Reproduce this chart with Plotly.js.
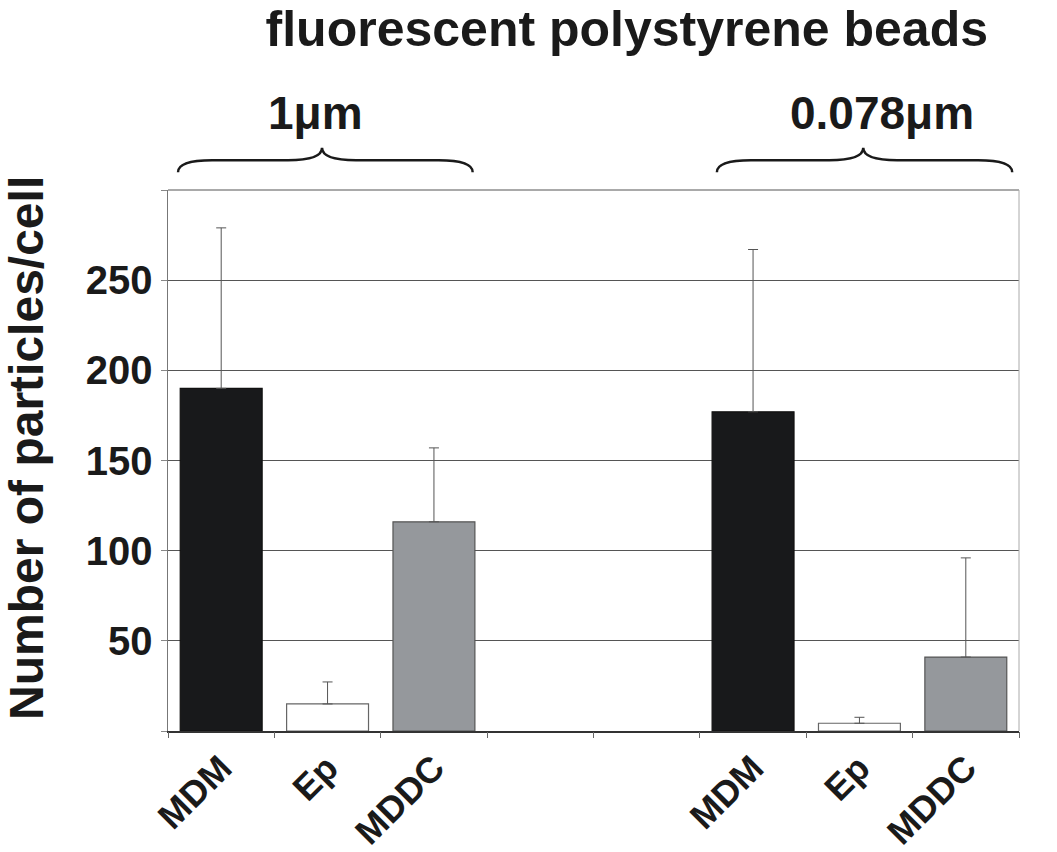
<!DOCTYPE html>
<html>
<head>
<meta charset="utf-8">
<script src="https://cdn.plot.ly/plotly-3.0.1.min.js"></script>
<style>
  html, body { margin: 0; padding: 0; background: #fff; }
  #chart { width: 1057px; height: 852px; }
</style>
</head>
<body>
<div id="chart"></div>
<script>
// cells and bead sizes
var cellTypes = ["MDM", "Ep", "MDDC", "MDM", "Ep", "MDDC"];
var slotIndex = [0, 1, 2, 5, 6, 7];          // two empty slots between the groups
var particlesMean = [190, 15, 116, 177, 4.3, 41];
var particlesErr = [89, 12.2, 41, 90, 3.3, 55];
var barColors = ["#18191b", "#ffffff", "#95989c", "#18191b", "#ffffff", "#95989c"];
var barLines = ["#111111", "#666666", "#555555", "#111111", "#666666", "#555555"];
var groupLabels = ["1\u03bcm", "0.078\u03bcm"];
var yTicks = [0, 50, 100, 150, 200, 250, 300];
var yTickText = ["", "50", "100", "150", "200", "250", ""];

var FONT = "Liberation Sans, Arial, sans-serif";
var INK = "#1a1a1a";

// curly brace in paper coords
function brace(x0, x1, tip) {
  var yEnd = 1.033, yMid = 1.055, yTip = 1.078, d = 0.04;
  return "M" + x0 + "," + yEnd +
    " Q" + x0 + "," + yMid + " " + (x0 + d) + "," + yMid +
    " L" + (tip - d) + "," + yMid +
    " Q" + tip + "," + yMid + " " + tip + "," + yTip +
    " Q" + tip + "," + yMid + " " + (tip + d) + "," + yMid +
    " L" + (x1 - d) + "," + yMid +
    " Q" + x1 + "," + yMid + " " + x1 + "," + yEnd;
}

var bars = {
  type: "bar",
  x: slotIndex,
  y: particlesMean,
  width: 0.77,
  marker: { color: barColors, line: { color: barLines, width: 1.2 } },
  error_y: { type: "data", symmetric: false, array: particlesErr, arrayminus: particlesErr.map(function () { return 0; }),
    color: "#555", thickness: 1, width: 5 },
  hoverinfo: "skip",
  showlegend: false
};

// invisible trace to own the boundary tick axis
var ghost = { type: "scatter", x: [-0.5], y: [0], xaxis: "x2", mode: "markers",
  marker: { opacity: 0 }, hoverinfo: "skip", showlegend: false };

var layout = {
  width: 1057, height: 852,
  margin: { l: 168, r: 38, t: 190, b: 121 },
  paper_bgcolor: "#fff", plot_bgcolor: "#fff",
  font: { family: FONT, color: INK },
  title: { text: "<b>fluorescent polystyrene beads</b>", font: { size: 50, family: FONT, color: INK },
    x: 0.593, xanchor: "center", xref: "container", y: 0.967, yanchor: "middle", yref: "container" },
  xaxis: {
    range: [-0.5, 7.5], tickvals: slotIndex, ticktext: cellTypes.map(function (s) { return "<b>" + s + "</b>"; }),
    tickangle: -45, ticks: "", tickfont: { size: 36, family: FONT, color: INK },
    showgrid: false, zeroline: false, showline: true, linecolor: "#333", linewidth: 1.5
  },
  xaxis2: {
    overlaying: "x", range: [-0.5, 7.5], tickvals: [-0.5, 0.5, 1.5, 2.5, 3.5, 4.5, 5.5, 6.5, 7.5],
    showticklabels: false, ticks: "outside", ticklen: 6, tickcolor: "#666", showgrid: false, zeroline: false
  },
  yaxis: {
    range: [0, 300], tickvals: yTicks, ticktext: yTickText.map(function (s) { return s ? "<b>" + s + "</b>" : ""; }),
    ticks: "outside", ticklen: 6, tickcolor: "#888",
    tickfont: { size: 40, family: FONT, color: INK },
    showgrid: true, gridcolor: "#555", gridwidth: 1, zeroline: false,
    showline: true, linecolor: "#777", linewidth: 1.5
  },
  shapes: [
    { type: "line", xref: "paper", yref: "paper", x0: 0, x1: 1, y0: 1, y1: 1, line: { color: "#555", width: 1 } },
    { type: "line", xref: "paper", yref: "paper", x0: 1, x1: 1, y0: 0, y1: 1, line: { color: "#aaa", width: 1 } },
    { type: "path", xref: "paper", yref: "paper", path: brace(0.0118, 0.358, 0.181), line: { color: INK, width: 2.5 } },
    { type: "path", xref: "paper", yref: "paper", path: brace(0.645, 0.992, 0.817), line: { color: INK, width: 2.5 } }
  ],
  annotations: [
    { text: "<b>" + groupLabels[0] + "</b>", xref: "paper", yref: "paper", x: 0.173, y: 1.142,
      xanchor: "center", yanchor: "middle",
      showarrow: false, font: { size: 46, family: FONT, color: INK } },
    { text: "<b>" + groupLabels[1] + "</b>", xref: "paper", yref: "paper", x: 0.839, y: 1.142,
      xanchor: "center", yanchor: "middle",
      showarrow: false, font: { size: 46, family: FONT, color: INK } },
    { text: "<b>Number of particles/cell</b>", xref: "paper", yref: "paper", x: -0.167, y: 0.523,
      xanchor: "center", yanchor: "middle", textangle: -90,
      showarrow: false, font: { size: 48, family: FONT, color: INK } }
  ]
};

Plotly.newPlot("chart", [bars, ghost], layout, { displayModeBar: false, staticPlot: true });
</script>
</body>
</html>
